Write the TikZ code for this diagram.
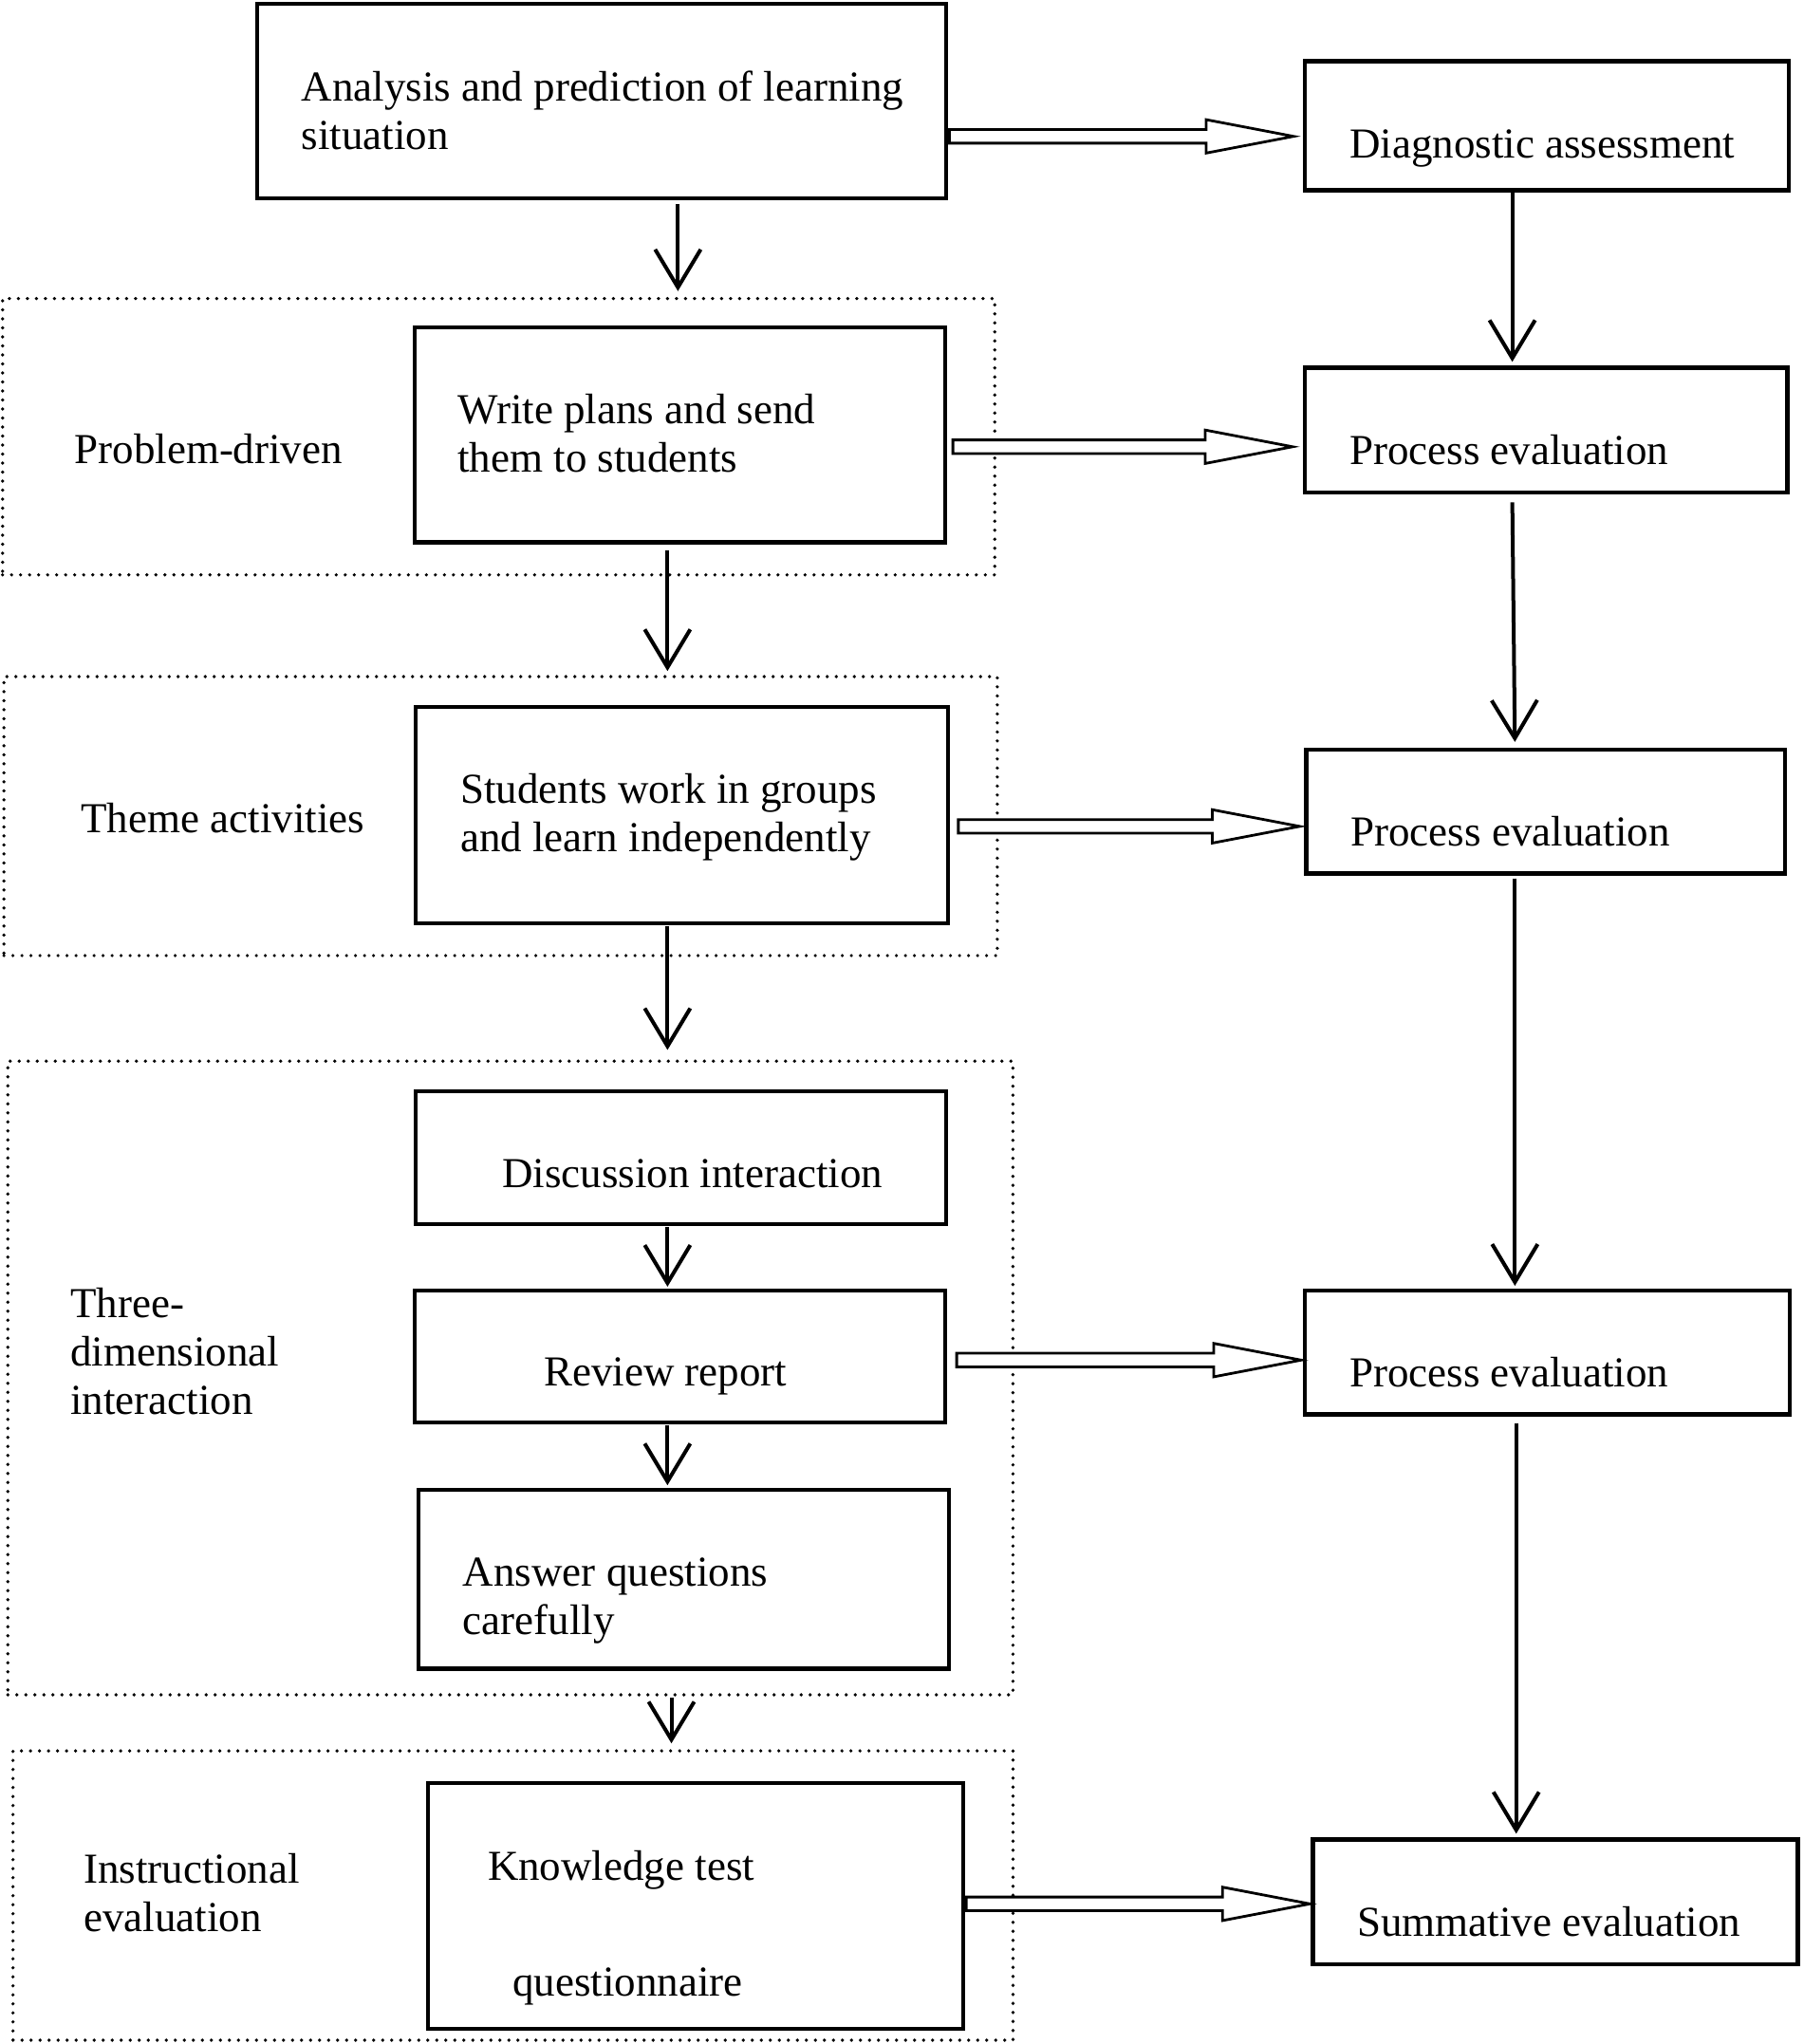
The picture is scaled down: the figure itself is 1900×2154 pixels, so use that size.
\documentclass[tikz,border=0pt]{standalone}
\usepackage{fontspec}
\setmainfont{Liberation Serif}
\usetikzlibrary{arrows.meta,calc,fit}
\newcommand\mainsize{\fontsize{45pt}{51pt}\selectfont}
\newcommand\hollowarrow[2]{%
  \path[hollowarr] ($(#1)+(0pt,7.2pt)$) -- ($(#2)+(-92pt,7.2pt)$) -- ($(#2)+(-92pt,17.6pt)$) -- (#2)
    -- ($(#2)+(-92pt,-17.6pt)$) -- ($(#2)+(-92pt,-7.2pt)$) -- ($(#1)+(0pt,-7.2pt)$) -- cycle;}
\begin{document}
\begin{tikzpicture}[x=1.3738pt,y=-1.3738pt,
  box/.style={draw, line width=4.2pt, inner sep=0pt},
  dotbox/.style={draw, line width=3.7pt, line cap=round, dash pattern=on 0pt off 9.5pt, inner sep=0pt},
  txt/.style={anchor=west, inner sep=0pt, align=left, font=\mainsize},
  arr/.style={line width=4pt, -{Straight Barb[length=40pt,width=48pt,line width=4pt]}},
  hollowarr/.style={draw, fill=white, line width=2.8pt, line join=miter}]
\useasboundingbox (0pt,0pt) rectangle (1900pt,-2154pt);

% dotted groups
\node[dotbox, fit={(2,229) (763,441)}] (P1) {};
\node[dotbox, fit={(3,519) (765,733)}] (P2) {};
\node[dotbox, fit={(6,814) (777,1300)}] (P3) {};
\node[dotbox, fit={(10,1343) (777,1565)}] (P4) {};

% boxes
\node[box, fit={(197,3) (726,152)}] (A) {};
\node[box, fit={(1001,47) (1372,146)}] (D) {};
\node[box, fit={(318,251) (725,416)}] (B) {};
\node[box, fit={(1001,282) (1371,378)}] (PE1) {};
\node[box, fit={(319,542) (727,708)}] (C) {};
\node[box, fit={(1002,575) (1369,670)}] (PE2) {};
\node[box, fit={(319,837) (726,939)}] (E) {};
\node[box, fit={(318,990) (725,1091)}] (F) {};
\node[box, fit={(321,1143) (728,1280)}] (G) {};
\node[box, fit={(1001,990) (1373,1085)}] (PE3) {};
\node[box, fit={(328,1368) (739,1556)}] (H) {};
\node[box, fit={(1007,1411) (1379,1507)}] (S) {};

% texts
\node[txt] (tA) at (231,88.6) {\strut Analysis and prediction of learning\\\strut situation};
\node[txt] (tD) at (1035,113.6) {\strut Diagnostic assessment};
\node[txt] (tP1) at (57,348.1) {\strut Problem-driven};
\node[txt] (tB) at (351,336.1) {\strut Write plans and send\\\strut them to students};
\node[txt] (tPE1) at (1035,348.6) {\strut Process evaluation};
\node[txt] (tP2) at (62,631.6) {\strut Theme activities};
\node[txt] (tC) at (353,627.1) {\strut Students work in groups\\\strut and learn independently};
\node[txt] (tPE2) at (1036,641.6) {\strut Process evaluation};
\node[txt] (tP3) at (54,1040.6) {\strut Three-\\\strut dimensional\\\strut interaction};
\node[txt] (tE) at (385,903.6) {\strut Discussion interaction};
\node[txt] (tF) at (417,1055.9) {\strut Review report};
\node[txt] (tPE3) at (1035,1056.6) {\strut Process evaluation};
\node[txt] (tG) at (355,1228.1) {\strut Answer questions\\\strut carefully};
\node[txt] (tP4) at (64,1455.9) {\strut Instructional\\\strut evaluation};
\node[txt] (tH1) at (374,1435.1) {\strut Knowledge test};
\node[txt] (tH2) at (393,1523.6) {\strut questionnaire};
\node[txt] (tS) at (1041,1477.6) {\strut Summative evaluation};

% hollow block arrows
\coordinate (h1s) at ([xshift=1pt]A.east |- 0,104.6);
\coordinate (h1e) at ([xshift=-10pt]D.west |- 0,104.6);
\coordinate (h2s) at ([xshift=6pt]B.east |- 0,342.7);
\coordinate (h2e) at ([xshift=-11pt]PE1.west |- 0,342.7);
\coordinate (h3s) at ([xshift=9pt]C.east |- 0,633.9);
\coordinate (h3e) at ([xshift=-5pt]PE2.west |- 0,633.9);
\coordinate (h4s) at ([xshift=10pt]F.east |- 0,1043.3);
\coordinate (h4e) at ([xshift=-2pt]PE3.west |- 0,1043.3);
\coordinate (h5s) at ([xshift=1pt]H.east |- 0,1460.4);
\coordinate (h5e) at ([xshift=-1pt]S.west |- 0,1460.4);
\hollowarrow{h1s}{h1e}
\hollowarrow{h2s}{h2e}
\hollowarrow{h3s}{h3e}
\hollowarrow{h4s}{h4e}
\hollowarrow{h5s}{h5e}

% vertical arrows
\coordinate (xa) at (520,0);
\coordinate (xb) at (512,0);
\coordinate (xc) at (515,0);
\coordinate (xr) at (1160,0);
\coordinate (xs) at (1162,0);
\coordinate (xt) at (1163,0);
\draw[arr] ([yshift=-4pt]A.south -| xa) -- ([yshift=6pt]P1.north -| xa);
\draw[arr] ([yshift=-6pt]B.south -| xb) -- ([yshift=4pt]P2.north -| xb);
\draw[arr] ([yshift=-1pt]C.south -| xb) -- ([yshift=10pt]P3.north -| xb);
\draw[arr] ([yshift=-1pt]E.south -| xb) -- ([yshift=2pt]F.north -| xb);
\draw[arr] ([yshift=-1pt]F.south -| xb) -- ([yshift=3pt]G.north -| xb);
\draw[arr] ([yshift=-1pt]P3.south -| xc) -- ([yshift=6pt]P4.north -| xc);
\draw[arr] (D.south -| xr) -- ([yshift=4pt]PE1.north -| xr);
\draw[arr] ([yshift=-8pt]PE1.south -| xr) -- ([yshift=6pt]PE2.north -| xs);
\draw[arr] ([yshift=-3pt]PE2.south -| xs) -- ([yshift=3pt]PE3.north -| xs);
\draw[arr] ([yshift=-7pt]PE3.south -| xt) -- ([yshift=4pt]S.north -| xt);
\end{tikzpicture}
\end{document}
